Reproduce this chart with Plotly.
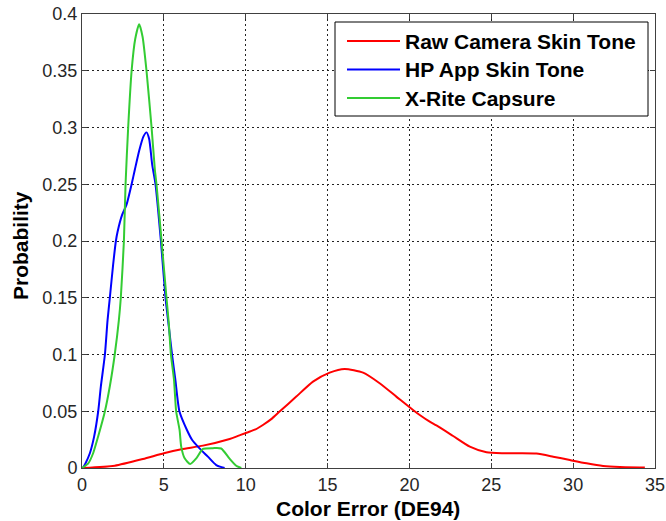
import plotly.graph_objects as go

# Raw Camera Skin Tone (red)
raw_x = [0.1, 2.0, 3.72, 5.0, 6.08, 7.39, 9.02, 9.42, 10.04, 10.6, 11.05, 11.6, 12.07, 13.09, 14.11,
         15.13, 16.04, 17.17, 18.18, 19.2, 20.22, 20.63, 21.24, 21.65, 22.67, 23.69, 24.71, 25.72,
         26.74, 27.76, 28.78, 29.8, 30.82, 31.83, 32.85, 34.38]
raw_y = [0.0, 0.002, 0.0079, 0.013, 0.0165, 0.0197, 0.0256, 0.0276, 0.0311, 0.034, 0.0379, 0.0435,
         0.0497, 0.0629, 0.0761, 0.084, 0.0873, 0.084, 0.0747, 0.0629, 0.0511, 0.0467, 0.0408,
         0.0375, 0.0282, 0.0188, 0.0138, 0.013, 0.013, 0.0127, 0.01, 0.007, 0.0041, 0.0018,
         0.0009, 0.0005]

# HP App Skin Tone (blue)
hp_x = [0.05, 0.21, 0.48, 0.74, 0.99, 1.15, 1.40, 1.56, 1.70, 1.90, 2.07, 2.17, 2.45, 2.72, 3.03,
        3.23, 3.5, 3.75, 3.94, 4.1, 4.29, 4.49, 4.82, 5.1, 5.3, 5.5, 5.7, 5.95, 6.41, 6.73, 7.18,
        7.69, 8.2, 8.71]
hp_y = [0.0, 0.004, 0.013, 0.0276, 0.05, 0.0717, 0.1, 0.13, 0.15, 0.179, 0.2, 0.208, 0.223, 0.232,
        0.25, 0.263, 0.28, 0.292, 0.2957, 0.29, 0.267, 0.25, 0.2, 0.15, 0.125, 0.1, 0.078, 0.05,
        0.0335, 0.0247, 0.0173, 0.01, 0.0026, 0.0]

# X-Rite Capsure (green)
xr_x = [0.0, 0.38, 0.68, 0.99, 1.4, 1.7, 2.0, 2.25, 2.37, 2.56, 2.66, 2.82, 3.03, 3.25, 3.49, 3.7,
        3.94, 4.25, 4.45, 4.55, 4.86, 5.16, 5.31, 5.43, 5.62, 5.75, 5.96, 6.06, 6.27, 6.61, 6.98,
        7.39, 8.0, 8.5, 9.0, 9.42, 9.73]
xr_y = [0.0, 0.004, 0.013, 0.028, 0.05, 0.072, 0.1, 0.13, 0.15, 0.2, 0.25, 0.30, 0.35, 0.378,
        0.391, 0.38, 0.35, 0.30, 0.263, 0.25, 0.2, 0.15, 0.126, 0.1, 0.0776, 0.05, 0.0335, 0.0188,
        0.0085, 0.0035, 0.0085, 0.0168, 0.0175, 0.0172, 0.0085, 0.002, 0.0]

series_names = ["Raw Camera Skin Tone", "HP App Skin Tone", "X-Rite Capsure"]
series_colors = ["#ff0000", "#0000ff", "#33cc33"]

x_ticks = [0, 5, 10, 15, 20, 25, 30, 35]
y_ticks = [0, 0.05, 0.1, 0.15, 0.2, 0.25, 0.3, 0.35, 0.4]
y_labels = ["0", "0.05", "0.1", "0.15", "0.2", "0.25", "0.3", "0.35", "0.4"]

W, H = 666, 521
ML, MR, MT, MB = 82, 11, 14, 53
PW, PH = W - ML - MR, H - MT - MB


def px_to_paper(px, py):
    return (px - ML) / PW, (H - MB - py) / PH


fig = go.Figure()
for xs, ys, name, col in zip([raw_x, hp_x, xr_x], [raw_y, hp_y, xr_y], series_names, series_colors):
    fig.add_trace(go.Scatter(x=xs, y=ys, mode="lines", name=name, showlegend=False,
                             line=dict(color=col, width=2, shape="spline", smoothing=0.6)))

font_family = "Liberation Sans, Arial, Helvetica, sans-serif"
axis_common = dict(
    showline=True, linecolor="#404040", linewidth=1, mirror="allticks",
    ticks="inside", ticklen=5, tickcolor="#404040",
    showgrid=True, gridcolor="#222222", griddash="2px,3px", gridwidth=1.2,
    zeroline=False, automargin=False,
    tickfont=dict(family=font_family, size=18, color="#262626"),
)

fig.update_xaxes(range=[0, 35], tickvals=x_ticks, **axis_common)
fig.update_yaxes(range=[0, 0.4], tickvals=y_ticks, ticktext=y_labels, **axis_common)

title_font = dict(family=font_family, size=21, color="#000", weight="bold")
annotations = []
tx, ty = px_to_paper(368, 508)
annotations.append(dict(text="Color Error (DE94)", x=tx, y=ty, xref="paper", yref="paper",
                        showarrow=False, xanchor="center", yanchor="middle", font=title_font))
tx, ty = px_to_paper(20, 246)
annotations.append(dict(text="Probability", x=tx, y=ty, xref="paper", yref="paper", textangle=-90,
                        showarrow=False, xanchor="center", yanchor="middle", font=title_font))

# Legend box drawn as layout shapes (MATLAB-style long line samples)
shapes = []
bx0, by0 = px_to_paper(335, 116)
bx1, by1 = px_to_paper(648, 22)
shapes.append(dict(type="rect", xref="paper", yref="paper", x0=bx0, y0=by0, x1=bx1, y1=by1,
                   line=dict(color="#000", width=1), fillcolor="white", layer="above"))
row_y = [41, 69.5, 98]
for name, col, ry in zip(series_names, series_colors, row_y):
    lx0, ly = px_to_paper(347, ry)
    lx1, _ = px_to_paper(400, ry)
    shapes.append(dict(type="line", xref="paper", yref="paper", x0=lx0, y0=ly, x1=lx1, y1=ly,
                       line=dict(color=col, width=2), layer="above"))
    ax, ay = px_to_paper(403, ry)
    annotations.append(dict(text=name, x=ax, y=ay, xref="paper", yref="paper", showarrow=False,
                            xanchor="left", yanchor="middle",
                            font=dict(family=font_family, size=21, color="#000", weight="bold")))

fig.update_layout(
    width=W, height=H,
    margin=dict(l=ML, r=MR, t=MT, b=MB),
    paper_bgcolor="white", plot_bgcolor="white",
    showlegend=False,
    shapes=shapes,
    annotations=annotations,
)

fig.write_html("out.html")
